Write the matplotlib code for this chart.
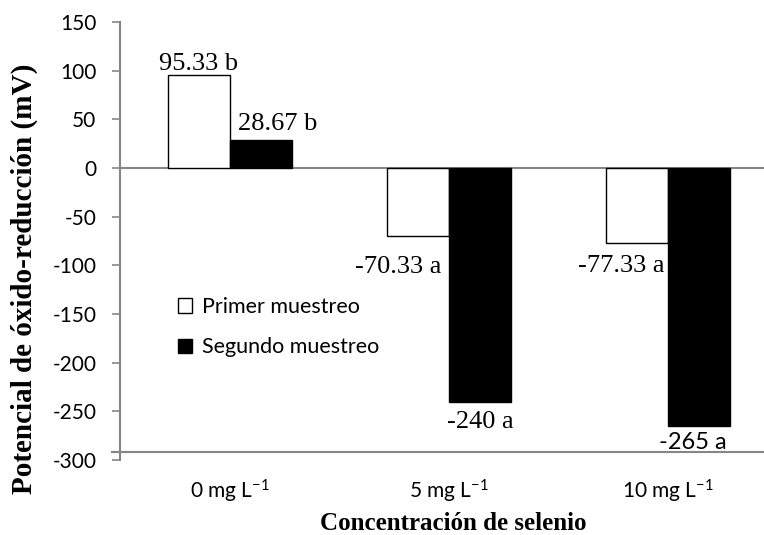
import matplotlib
matplotlib.use('Agg')
import matplotlib.pyplot as plt
import numpy as np

# Data
categories = ['0 mg L$^{-1}$', '5 mg L$^{-1}$', '10 mg L$^{-1}$']
primer = [95.33, -70.33, -77.33]
segundo = [28.67, -240, -265]
primer_labels = ['95.33 b', '-70.33 a', '-77.33 a']
segundo_labels = ['28.67 b', '-240 a', '-265 a']
yticks = [150, 100, 50, 0, -50, -100, -150, -200, -250, -300]

plt.rcParams['mathtext.fontset'] = 'custom'
plt.rcParams['mathtext.rm'] = 'Lato'
plt.rcParams['mathtext.it'] = 'Lato'
plt.rcParams['axes.unicode_minus'] = False

gray = '#868686'
serif = 'Liberation Serif'
sans = 'Lato'

fig = plt.figure(figsize=(7.64, 5.35), dpi=100)
ax = fig.add_axes([120 / 764, 1 - 460 / 535, 658 / 764, 438 / 535])

x = np.arange(len(categories))
w = 0.283
ax.bar(x - w / 2, primer, w, color='white', edgecolor='black', linewidth=1.0,
       label='Primer muestreo', zorder=3)
ax.bar(x + w / 2, segundo, w, color='black', edgecolor='black', linewidth=1.0,
       label='Segundo muestreo', zorder=3)

ax.set_xlim(-0.5, 2.5)
ax.set_ylim(-300, 150)
ax.set_yticks(yticks)
ax.set_yticklabels([str(t) for t in yticks], fontfamily=sans, fontsize=15)
ax.set_xticks(x)
ax.set_xticklabels(categories, fontfamily=sans, fontsize=15)
ax.tick_params(axis='x', length=0, pad=13)
ax.tick_params(axis='y', length=6, width=1.2, color=gray, pad=11)

for s in ['top', 'right', 'bottom']:
    ax.spines[s].set_visible(False)
ax.spines['left'].set_color(gray)
ax.spines['left'].set_linewidth(1.5)
ax.spines['left'].set_zorder(4)

ax.axhline(0, color=gray, lw=1.5, zorder=2)
ax.axhline(-292, xmin=-0.012, color=gray, lw=1.5, zorder=2, clip_on=False)

# label offsets in points (dx, dy)
off1 = [(0, 3.6), (-14.4, -26), (-11.5, -21)]
off2 = [(12.2, 7.2), (0, -19), (-5, -16.5)]
fam2 = [serif, serif, sans]
size2 = [19, 19, 17]

for i in range(len(categories)):
    ax.annotate(primer_labels[i], (x[i] - w / 2, primer[i]), xytext=off1[i],
                textcoords='offset points', ha='center', va='baseline',
                fontfamily=serif, fontsize=19, zorder=5)
    ax.annotate(segundo_labels[i], (x[i] + w / 2, segundo[i]), xytext=off2[i],
                textcoords='offset points', ha='center', va='baseline',
                fontfamily=fam2[i], fontsize=size2[i], zorder=5)

ax.legend(loc='upper left', bbox_to_anchor=(178 / 764, 1 - 297 / 535),
          bbox_transform=fig.transFigure, frameon=False, borderpad=0,
          borderaxespad=0, handlelength=0.65, handleheight=0.65,
          handletextpad=0.45, labelspacing=0.95,
          prop={'family': sans, 'size': 15.5})

fig.text(24 / 764, 1 - 279 / 535, 'Potencial de óxido-reducción (mV)', rotation=90,
         ha='center', va='center', fontfamily=serif, fontweight='bold', fontsize=21)
fig.text(453 / 764, 1 - 530 / 535, 'Concentración de selenio', ha='center',
         va='baseline', fontfamily=serif, fontweight='bold', fontsize=18)

plt.savefig('out.png', dpi=100)
